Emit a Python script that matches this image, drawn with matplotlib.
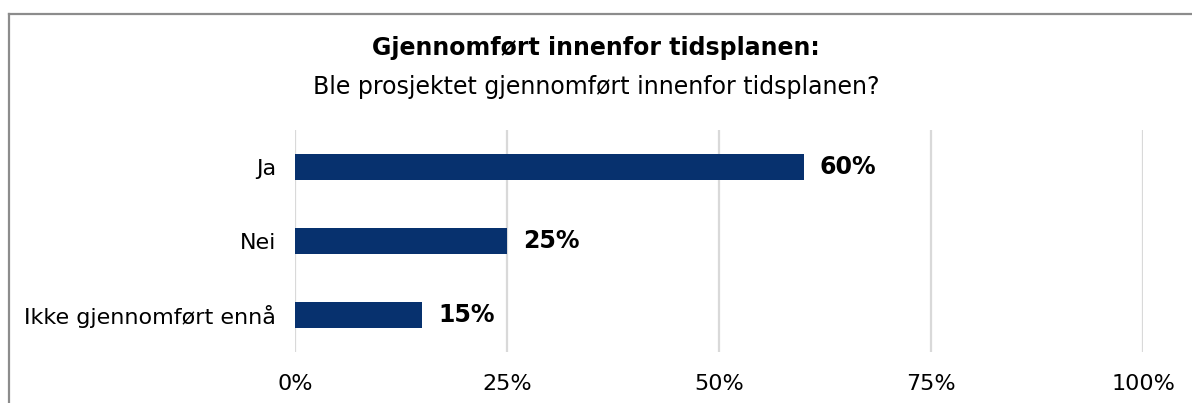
import numpy as np
import matplotlib.pyplot as plt
from matplotlib.lines import Line2D

# Data
categories = ['Ja', 'Nei', 'Ikke gjennomført ennå']
values = [60, 25, 15]
xticks = [0, 25, 50, 75, 100]
xticklabels = ['0%', '25%', '50%', '75%', '100%']

bar_color = '#07316e'
grid_color = '#d9d9d9'

fig = plt.figure(figsize=(11.92, 4.03), dpi=100)
ax = fig.add_axes([295 / 1192, (403 - 352) / 403, (1143 - 295) / 1192, 222 / 403])

y = np.arange(len(categories))
ax.barh(y, values, height=0.35, color=bar_color, zorder=3)

for yi, v in zip(y, values):
    ax.text(v + 1.9, yi, f'{v}%', va='center', ha='left',
            fontsize=17, fontweight='bold', color='black')

ax.set_xlim(0, 100)
ax.set_ylim(2.5, -0.5)
ax.set_xticks(xticks)
ax.set_xticklabels(xticklabels, fontsize=16)
ax.set_yticks(y)
ax.set_yticklabels(categories, fontsize=16)
ax.tick_params(axis='x', length=0, pad=16)
ax.tick_params(axis='y', length=0, pad=13.5)
ax.grid(axis='x', color=grid_color, linewidth=1.6, zorder=0)
for s in ax.spines.values():
    s.set_visible(False)

# titles
fig.text(0.5, 1 - 48 / 403, 'Gjennomført innenfor tidsplanen:', ha='center', va='center',
         fontsize=17, fontweight='bold')
fig.text(0.5, 1 - 87 / 403, 'Ble prosjektet gjennomført innenfor tidsplanen?', ha='center',
         va='center', fontsize=17)

# outer frame
fig.add_artist(Line2D([9 / 1192, 1], [1 - 14 / 403, 1 - 14 / 403], color='#8c8c8c', linewidth=1.6))
fig.add_artist(Line2D([9 / 1192, 9 / 1192], [0, 1 - 14 / 403], color='#8c8c8c', linewidth=1.6))

fig.savefig('out.png', dpi=100)
